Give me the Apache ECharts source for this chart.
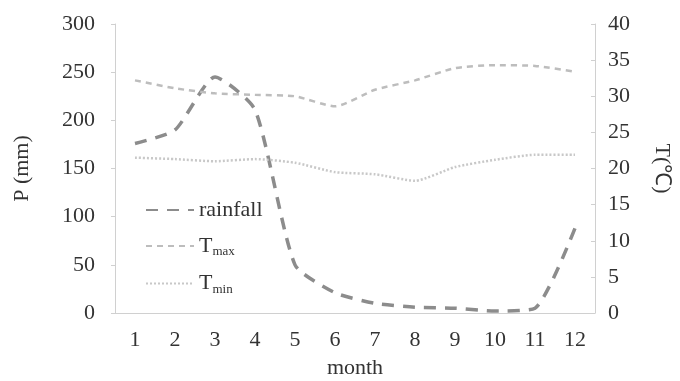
<!DOCTYPE html>
<html><head><meta charset="utf-8">
<script src="https://cdn.jsdelivr.net/npm/echarts@6/dist/echarts.min.js"></script>
<style>html,body{margin:0;padding:0;background:#fff}#c{width:680px;height:381px}</style>
</head><body><div id="c"></div>
<script>
const months = ['1','2','3','4','5','6','7','8','9','10','11','12'];
const rainfall = [176, 190, 245, 211, 50, 21, 10, 6, 5, 2, 5, 88];
const tmax = [32.2, 31.1, 30.4, 30.2, 30.0, 28.6, 30.9, 32.2, 33.9, 34.3, 34.2, 33.4];
const tmin = [21.5, 21.3, 21.0, 21.3, 20.8, 19.5, 19.2, 18.3, 20.2, 21.2, 21.9, 21.9];
const pTicks = [0, 50, 100, 150, 200, 250, 300];
const tTicks = [0, 5, 10, 15, 20, 25, 30, 35, 40];

const font = 'Liberation Serif';
const labelColor = '#333';
const axisColor = '#d0d0d0';
const chart = echarts.init(document.getElementById('c'));
chart.setOption({
  animation: false,
  grid: {left: 115, right: 85, top: 24, bottom: 68, outerBoundsMode: 'none', containLabel: false},
  legend: {
    orient: 'vertical', left: 140, top: 194, itemGap: 14, itemWidth: 48, itemHeight: 14,
    data: ['rainfall', 'Tmax', 'Tmin'],
    itemStyle: {opacity: 0, borderWidth: 0},
    textStyle: {fontFamily: font, fontSize: 22, color: labelColor,
      rich: {sub: {fontFamily: font, fontSize: 13, color: labelColor, verticalAlign: 'bottom', padding: [12,0,0,0]}}},
    formatter: function (n) { return n === 'rainfall' ? n : 'T{sub|' + n.slice(1) + '}'; }
  },
  xAxis: {
    type: 'category', data: months, name: 'month', nameLocation: 'middle', nameGap: 44,
    nameTextStyle: {fontFamily: font, fontSize: 22, color: labelColor},
    axisLine: {lineStyle: {color: axisColor}}, axisTick: {lineStyle: {color: axisColor}, length: 4},
    axisLabel: {fontFamily: font, fontSize: 22, color: labelColor, margin: 16}
  },
  yAxis: [{
    type: 'value', min: pTicks[0], max: pTicks[pTicks.length-1], interval: 50,
    name: 'P (mm)', nameLocation: 'middle', nameGap: 82,
    nameTextStyle: {fontFamily: font, fontSize: 22, color: labelColor},
    axisLine: {show: true, lineStyle: {color: axisColor}},
    axisTick: {show: true, lineStyle: {color: axisColor}, length: 4},
    splitLine: {show: false},
    axisLabel: {fontFamily: font, fontSize: 22, color: labelColor, margin: 20}
  }, {
    type: 'value', min: tTicks[0], max: tTicks[tTicks.length-1], interval: 5, position: 'right',
    name: 'T(℃)', nameLocation: 'middle', nameGap: 56, nameRotate: -90,
    nameTextStyle: {fontFamily: font, fontSize: 22, color: labelColor},
    axisLine: {show: true, lineStyle: {color: axisColor}},
    axisTick: {show: true, inside: true, lineStyle: {color: axisColor}, length: 4},
    splitLine: {show: false},
    axisLabel: {fontFamily: font, fontSize: 22, color: labelColor, margin: 13}
  }],
  series: [{
    name: 'rainfall', type: 'line', yAxisIndex: 0, data: rainfall, symbol: 'none', smooth: 0.2,
    lineStyle: {color: '#8c8c8c', width: 3.5, type: [12, 9]}, itemStyle: {color: '#8c8c8c'}
  }, {
    name: 'Tmax', type: 'line', yAxisIndex: 1, data: tmax, symbol: 'none', smooth: 0.2,
    lineStyle: {color: '#bdbdbd', width: 2.5, type: [6, 5]}, itemStyle: {color: '#bdbdbd'}
  }, {
    name: 'Tmin', type: 'line', yAxisIndex: 1, data: tmin, symbol: 'none', smooth: 0.2,
    lineStyle: {color: '#c8c8c8', width: 2.5, type: [2, 2]}, itemStyle: {color: '#c8c8c8'}
  }]
});
</script></body></html>
